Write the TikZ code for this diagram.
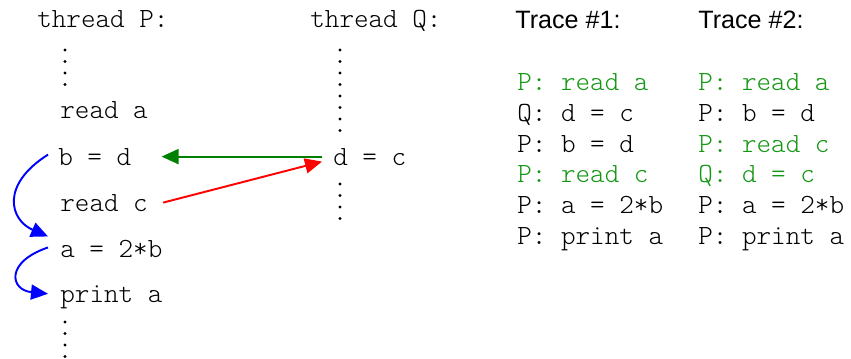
\documentclass[tikz,border=0pt]{standalone}
\usepackage{fontspec}
\setsansfont{Liberation Sans}
\setmonofont{Latin Modern Mono Light}
\usepackage{xcolor}
\usepackage{tikz}
\usetikzlibrary{arrows.meta,calc}
\definecolor{tgreen}{RGB}{20,150,20}
\definecolor{agreen}{RGB}{0,128,0}
\begin{document}
\begin{tikzpicture}[x=0.02cm,y=-0.02cm,
		code/.style={inner sep=0pt, anchor=base west, font=\ttfamily\fontsize{15.8}{18}\selectfont},
		head/.style={inner sep=0pt, anchor=base west, font=\sffamily\fontsize{14.3}{16}\selectfont},
		dep/.style={line width=1.1pt, -{Triangle[length=0.34cm,width=0.3cm]}, #1}
		]
		\useasboundingbox (0,0) rectangle (851,358);
		% thread P
		\node[code] (tp) at (37,28) {thread P:};
		\node[code] (ra) at (60,118) {read a};
		\node[code] (bd) at (58,165) {b = d};
		\node[code] (rc) at (60,211) {read c};
		\node[code] (ab) at (60,257) {a = 2*b};
		\node[code] (pa) at (60,302) {print a};
		% thread Q
		\node[code] (tq) at (310,28) {thread Q:};
		\node[code] (dc) at (333,165) {d = c};
		\foreach \y in {50,61.5,73,84.5}
		\fill (65,\y) circle (1.6);
		\foreach \y in {322,333.5,345,356.5}
		\fill (65,\y) circle (1.6);
		\foreach \y in {50,61.5,73,84.5,96,107.5,119,130.5}
		\fill (340,\y) circle (1.6);
		\foreach \y in {184,195.5,207,218.5}
		\fill (340,\y) circle (1.6);
		\draw[dep=agreen] ($(dc.west)+(-11,0)$) to ($(bd.east)+(30,0)$);
		\draw[dep=red] ($(rc.east)+(15,0)$) to ($(dc.west)+(-11,5)$);
		\draw[dep=blue] ($(bd.west)+(-10,-2)$) .. controls (0,185) and (10,220) .. ($(ab.west)+(-12,-12)$);
		\draw[dep=blue] ($(ab.west)+(-12,-1)$) .. controls (5,262) and (10,290) .. ($(pa.west)+(-12,-3)$);
		% traces
		\node[head] (h1) at (515,29) {Trace \#1:};
		\node[head] (h2) at (698,29) {Trace \#2:};
		\foreach \txt/\clr [count=\i] in {P: read a/tgreen, Q: d = c/black, P: b = d/black, P: read c/tgreen, P: a = 2*b/black, P: print a/black}
		\node[code,text=\clr] (ta\i) at ({517},{60.4+30.6*\i}) {\txt};
		\foreach \txt/\clr [count=\i] in {P: read a/tgreen, P: b = d/black, P: read c/tgreen, Q: d = c/tgreen, P: a = 2*b/black, P: print a/black}
		\node[code,text=\clr] (tb\i) at ({698},{60.4+30.6*\i}) {\txt};
		\end{tikzpicture}
\end{document}
